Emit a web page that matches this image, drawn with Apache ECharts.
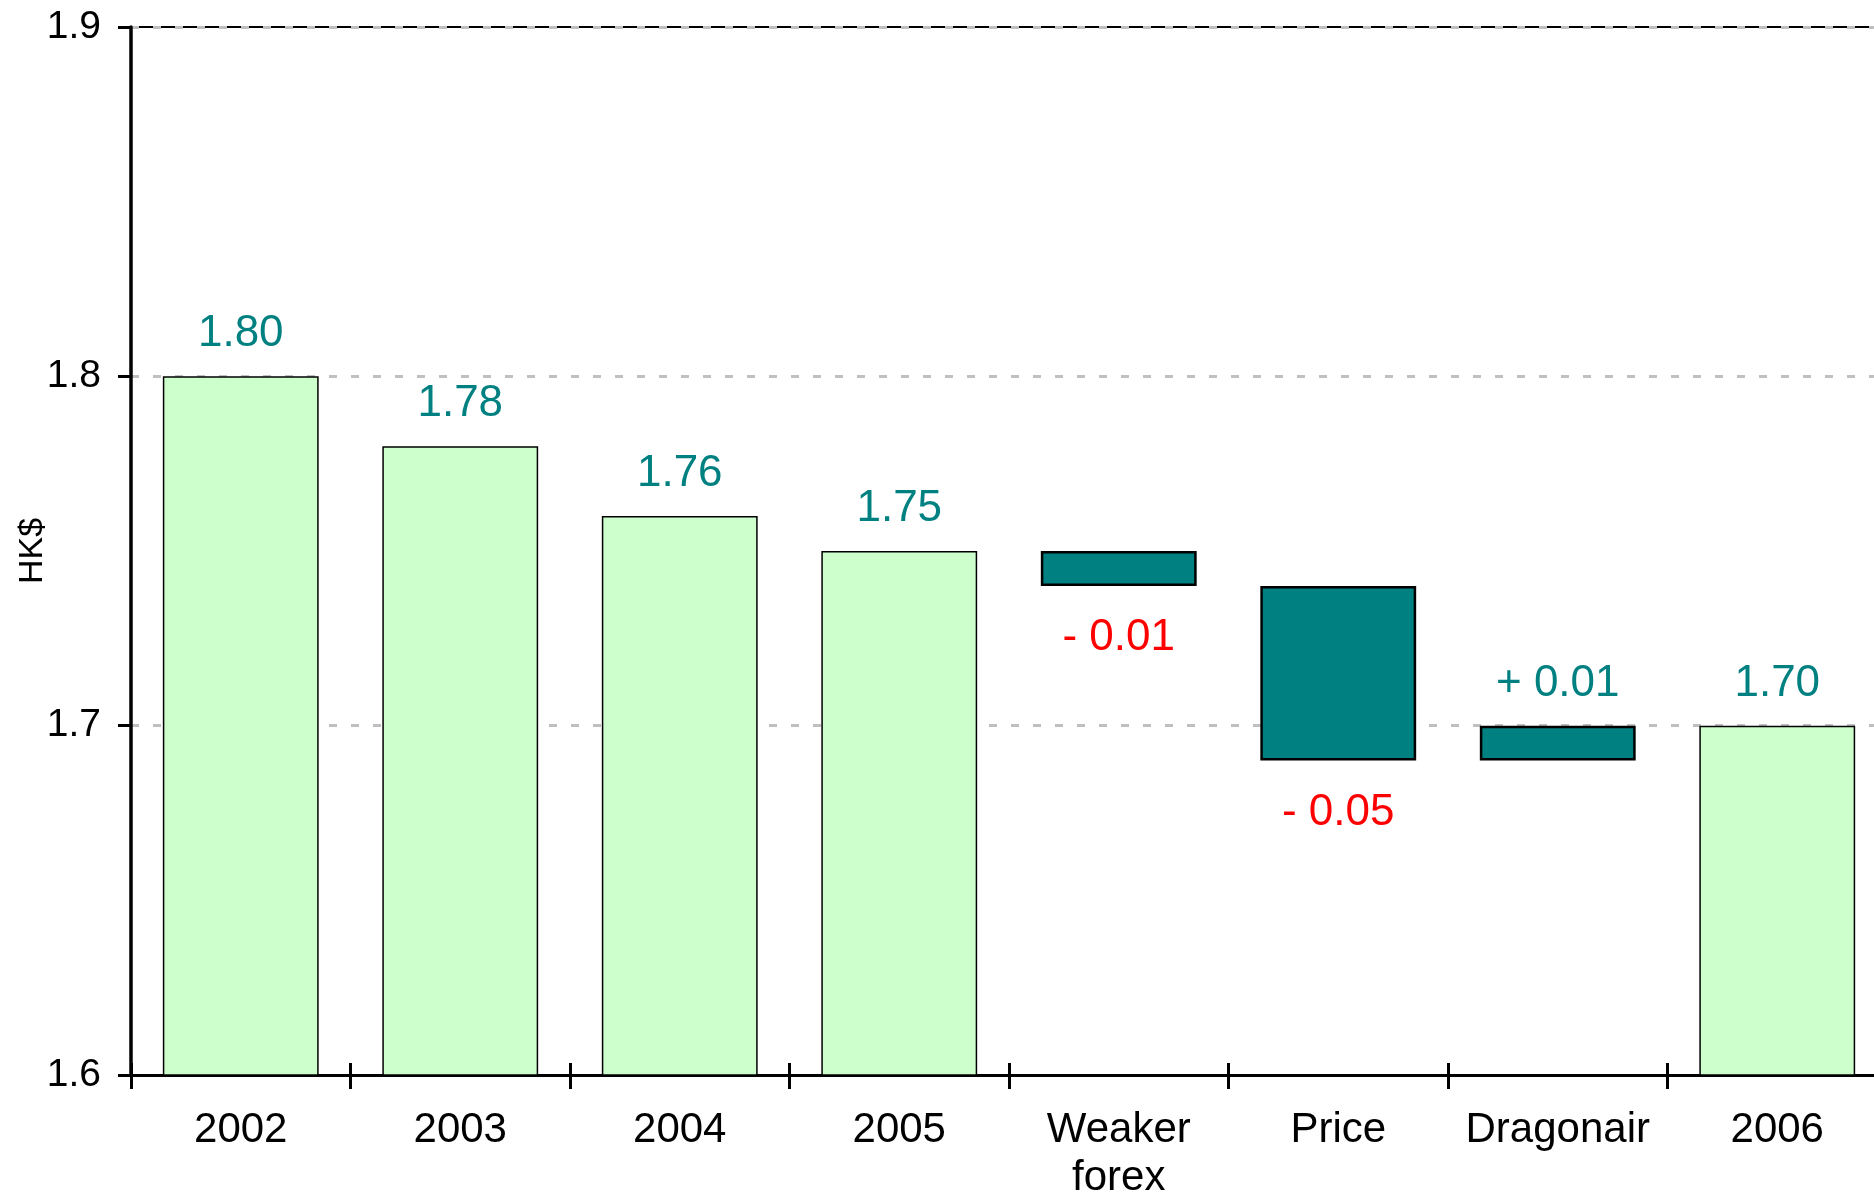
<!DOCTYPE html>
<html>
<head>
<meta charset="utf-8">
<script src="https://cdn.jsdelivr.net/npm/echarts@6/dist/echarts.min.js"></script>
<style>
  html, body { margin: 0; padding: 0; background: #fff; }
  #chart { width: 1874px; height: 1192px; }
</style>
</head>
<body>
<div id="chart"></div>
<script>
// categories and values
var categories = ['2002', '2003', '2004', '2005', 'Weaker\nforex', 'Price', 'Dragonair', '2006'];
var totals = [1.80, 1.78, 1.76, 1.75, null, null, null, 1.70];
var changes = [null, null, null, null, -0.01, -0.05, 0.01, null];
var yTicks = [1.6, 1.7, 1.8, 1.9];

(function() {
    var myChart = echarts.init(document.getElementById('chart'));
    var font = '"Liberation Sans", Arial, sans-serif';

    // waterfall: invisible base under each change bar
    var level = 0;
    var base = [], totalData = [], changeData = [];
    for (var i = 0; i < categories.length; i++) {
        if (totals[i] != null) {
            level = totals[i];
            base.push(0);
            totalData.push(totals[i]);
            changeData.push('-');
        } else {
            var next = Math.round((level + changes[i]) * 100) / 100;
            var neg = changes[i] < 0;
            base.push(Math.min(level, next));
            totalData.push('-');
            changeData.push({
                value: Math.abs(changes[i]),
                label: {
                    position: neg ? 'bottom' : 'top',
                    distance: neg ? 30 : 20,
                    color: neg ? '#ff0000' : '#008080',
                    formatter: (neg ? '- ' : '+ ') + Math.abs(changes[i]).toFixed(2)
                }
            });
            level = next;
        }
    }

    var gridTop = 27, gridBottom = 117, plotH = 1192 - gridTop - gridBottom;

    var option = {
        animation: false,
        textStyle: { fontFamily: font },
        grid: {
            left: 131,
            top: gridTop,
            right: -13,
            bottom: gridBottom,
            outerBoundsMode: 'none',
            containLabel: false,
            show: true,
            borderColor: '#000',
            borderWidth: 2,
            backgroundColor: 'transparent'
        },
        xAxis: [{
            type: 'category',
            data: categories,
            axisLine: { lineStyle: { color: '#000', width: 3 } },
            axisTick: { show: true, interval: 0, length: 14, lineStyle: { color: '#000', width: 3 } },
            axisLabel: {
                interval: 0,
                color: '#000',
                fontSize: 42,
                lineHeight: 48,
                margin: 31,
                fontFamily: font
            }
        }, {
            // upper half of the ticks (they cross the axis in the original):
            // a top axis pushed down onto the bottom one
            type: 'category',
            data: categories,
            position: 'top',
            offset: -plotH,
            axisLine: { show: false },
            axisTick: { show: true, interval: 0, length: 12, lineStyle: { color: '#000', width: 3 } },
            axisLabel: { show: false }
        }],
        yAxis: {
            type: 'value',
            min: yTicks[0],
            max: yTicks[yTicks.length - 1],
            interval: 0.1,
            name: 'HK$',
            nameLocation: 'middle',
            nameGap: 81,
            nameMoveOverlap: false,
            nameTextStyle: { color: '#000', fontSize: 34, fontFamily: font },
            axisLine: { show: true, lineStyle: { color: '#000', width: 3.5 } },
            axisTick: { show: true, length: 13, lineStyle: { color: '#000', width: 3 } },
            axisLabel: {
                color: '#000',
                fontSize: 39,
                margin: 30,
                fontFamily: font,
                formatter: function(v) { return v.toFixed(1); }
            },
            splitLine: {
                show: true,
                lineStyle: { color: '#c0c0c0', width: 3, type: [8, 14] }
            }
        },
        series: [{
            name: 'base',
            type: 'bar',
            stack: 'w',
            barWidth: '71%',
            silent: true,
            itemStyle: { color: 'transparent', borderWidth: 0 },
            data: base
        }, {
            name: 'total',
            type: 'bar',
            stack: 'w',
            barWidth: '71%',
            itemStyle: { color: '#ccffcc', borderColor: '#000', borderWidth: 1.5 },
            label: {
                show: true,
                position: 'top',
                distance: 20,
                color: '#008080',
                fontSize: 44,
                fontFamily: font,
                formatter: function(p) { return p.value.toFixed(2); }
            },
            data: totalData
        }, {
            name: 'change',
            type: 'bar',
            stack: 'w',
            barWidth: '71%',
            itemStyle: { color: '#008080', borderColor: '#000', borderWidth: 2.5 },
            label: {
                show: true,
                fontSize: 44,
                fontFamily: font
            },
            data: changeData
        }]
    };

    myChart.setOption(option);
})();
</script>
</body>
</html>
